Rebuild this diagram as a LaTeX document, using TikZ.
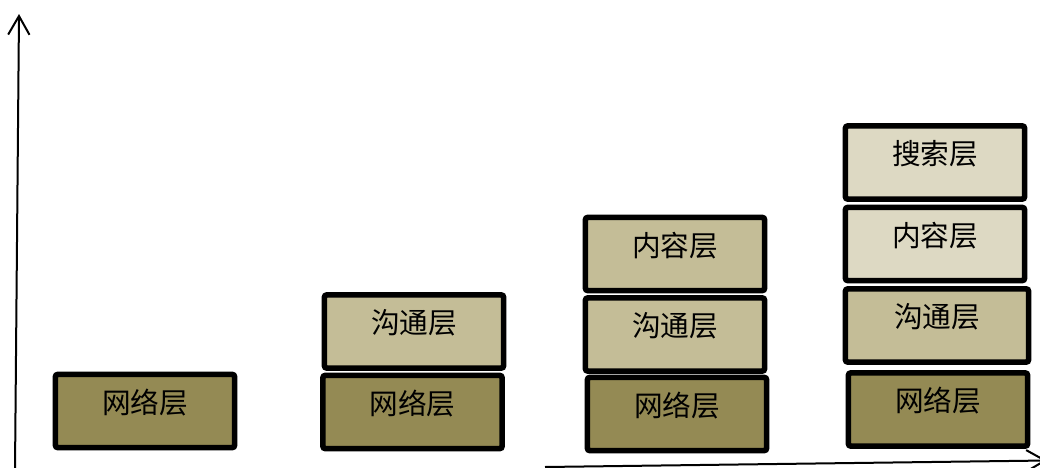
\documentclass[tikz,border=0pt]{standalone}
\usepackage{fontspec}
\setmainfont{Noto Sans CJK SC}
\usetikzlibrary{arrows.meta}
\definecolor{netcol}{HTML}{948A54}
\definecolor{comcol}{HTML}{C4BD97}
\definecolor{topcol}{HTML}{DDD9C3}
\tikzset{>={Straight Barb[length=14pt,width=16pt]}}
\tikzset{layer/.style={draw,line width=4.2pt,rounded corners=2pt,
  minimum width=134.5pt,minimum height=55pt,inner sep=0pt,
  text height=18pt,text depth=15pt,font=\fontsize{21.5}{25}\selectfont}}
\tikzset{ax/.style={line width=1.5pt}}

\begin{document}
\begin{tikzpicture}[x=0.75pt,y=-0.75pt]
\useasboundingbox (0,0) rectangle (1040,468);

% axes
\coordinate (o) at (15,470);
\coordinate (ytop) at (19,14);
\coordinate (xl) at (545,467);
\coordinate (xr) at (1047,460.5);
\draw[ax,->] (o) -- (ytop);
\draw[ax,->] (xl) -- (xr);

% one layer
\node[layer,fill=netcol] (net1) at (145,411) {网络层};

% two layers
\node[layer,fill=netcol] (net2) at (412.5,412) {网络层};
\node[layer,fill=comcol] (com2) at (414,331.5) {沟通层};

% three layers
\node[layer,fill=netcol] (net3) at (677,414) {网络层};
\node[layer,fill=comcol] (com3) at (675,334.5) {沟通层};
\node[layer,fill=comcol] (con3) at (675,254) {内容层};

% four layers
\node[layer,fill=netcol] (net4) at (938,409.5) {网络层};
\node[layer,fill=comcol,minimum width=137.5pt] (com4) at (937,325.5) {沟通层};
\node[layer,fill=topcol] (con4) at (935,244) {内容层};
\node[layer,fill=topcol] (sea4) at (935,162.5) {搜索层};

\end{tikzpicture}
\end{document}
